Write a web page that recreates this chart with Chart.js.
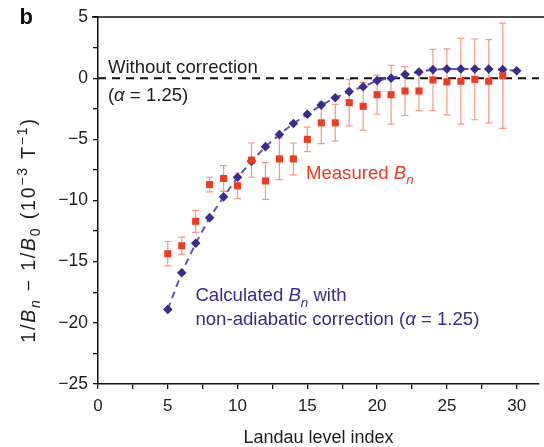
<!DOCTYPE html>
<html><head><meta charset="utf-8">
<script src="https://cdn.jsdelivr.net/npm/chart.js@4.4.0/dist/chart.umd.min.js"></script>
<style>html,body{margin:0;padding:0;background:#fff;overflow:hidden}canvas{display:block}</style>
</head><body>
<canvas id="c" width="544" height="447"></canvas>
<script>
// ---- data ----
const levelIndex = [5,6,7,8,9,10,11,12,13,14,15,16,17,18,19,20,21,22,23,24,25,26,27,28,29,30];
const calculatedB = [-18.9,-15.9,-13.5,-11.4,-9.7,-8.1,-6.8,-5.6,-4.6,-3.7,-2.95,-2.2,-1.6,-1.1,-0.7,-0.2,0.0,0.3,0.5,0.7,0.75,0.75,0.75,0.75,0.7,0.6];
const measuredIndex = [5,6,7,8,9,10,11,12,13,14,15,16,17,18,19,20,21,22,23,24,25,26,27,28,29];
const measuredB = [-14.35,-13.7,-11.7,-8.7,-8.2,-8.8,-6.7,-8.4,-6.6,-6.6,-5.0,-3.65,-3.65,-2.0,-2.3,-1.35,-1.35,-1.05,-1.05,-0.15,-0.3,-0.25,-0.1,-0.25,0.2];
const measuredErr = [1.0,0.7,0.9,0.6,1.05,1.05,1.4,1.5,1.7,1.3,1.0,1.7,1.5,1.9,1.95,1.6,2.4,2.0,1.6,2.5,2.7,3.5,3.3,3.4,4.3];
const referenceX = [0, 31.6];
const referenceY = [0, 0];
const xTicks = [0,2.5,5,7.5,10,12.5,15,17.5,20,22.5,25,27.5,30];
const xTickLabels = ['0','','5','','10','','15','','20','','25','','30'];
const yTicks = [-25,-22.5,-20,-17.5,-15,-12.5,-10,-7.5,-5,-2.5,0,2.5,5];
const yTickLabels = ['\u221225','','\u221220','','\u221215','','\u221210','','\u22125','','0','','5'];

const FONT = '"Liberation Sans", Arial, Helvetica, sans-serif';
const RED = '#ee3b22', ERR = '#f39a86', NAVY = '#3a2c8e', LINE = '#5a5ab0', TXT = '#1e1e1e';

function richWidth(ctx, parts, size) {
  let w = 0;
  for (const p of parts) {
    const s = (p.sub || p.sup) ? size * 0.72 : size;
    ctx.font = (p.italic ? 'italic ' : '') + (p.bold ? 'bold ' : '') + s + 'px ' + FONT;
    w += ctx.measureText(p.t).width;
  }
  return w;
}
function drawRich(ctx, x, y, parts, size, color) {
  let cx = x;
  ctx.fillStyle = color;
  ctx.textBaseline = 'alphabetic';
  ctx.textAlign = 'left';
  for (const p of parts) {
    const s = (p.sub || p.sup) ? size * 0.72 : size;
    ctx.font = (p.italic ? 'italic ' : '') + (p.bold ? 'bold ' : '') + s + 'px ' + FONT;
    const dy = p.sub ? size * 0.28 : (p.sup ? -size * 0.4 : 0);
    ctx.fillText(p.t, cx, y + dy);
    cx += ctx.measureText(p.t).width;
  }
}

const yTitleParts = [{t:'1/'},{t:'B',italic:true},{t:'n',italic:true,sub:true},{t:' \u2212 1/'},{t:'B',italic:true},{t:'0',sub:true},{t:' (10'},{t:'\u22123',sup:true},{t:' T'},{t:'\u22121',sup:true},{t:')'}];

const decorPlugin = {
  id: 'decor',
  beforeDatasetsDraw(chart) {
    const {ctx, scales: {x, y}} = chart;
    ctx.save();
    ctx.strokeStyle = ERR;
    ctx.lineWidth = 1.2;
    measuredIndex.forEach((n, i) => {
      const px = x.getPixelForValue(n);
      const top = y.getPixelForValue(measuredB[i] + measuredErr[i]);
      const bot = y.getPixelForValue(measuredB[i] - measuredErr[i]);
      ctx.beginPath();
      ctx.moveTo(px, top); ctx.lineTo(px, bot);
      ctx.moveTo(px - 3.5, top); ctx.lineTo(px + 3.5, top);
      ctx.moveTo(px - 3.5, bot); ctx.lineTo(px + 3.5, bot);
      ctx.stroke();
    });
    ctx.restore();
  },
  afterDraw(chart) {
    const {ctx, chartArea, scales: {x, y}} = chart;
    ctx.save();
    // top frame line
    ctx.strokeStyle = '#111';
    ctx.lineWidth = 1.5;
    ctx.beginPath();
    ctx.moveTo(chartArea.left - 6, chartArea.top);
    ctx.lineTo(chart.width, chartArea.top);
    ctx.stroke();
    // y axis title (rotated rich text)
    const ts = 19.5;
    ctx.save();
    ctx.letterSpacing = '1.8px';
    const tw = richWidth(ctx, yTitleParts, ts);
    ctx.translate(35, 230);
    ctx.rotate(-Math.PI / 2);
    drawRich(ctx, -tw / 2, 0, yTitleParts, ts, TXT);
    ctx.restore();
    // annotations
    const S = 18.6;
    drawRich(ctx, x.getPixelForValue(0.71), y.getPixelForValue(0.45), [{t:'Without correction'}], S, TXT);
    drawRich(ctx, x.getPixelForValue(0.71), y.getPixelForValue(-1.9), [{t:'('},{t:'\u03b1',italic:true},{t:' = 1.25)'}], S, TXT);
    drawRich(ctx, x.getPixelForValue(14.9), y.getPixelForValue(-8.25), [{t:'Measured '},{t:'B',italic:true},{t:'n',italic:true,sub:true}], S, RED);
    drawRich(ctx, x.getPixelForValue(6.98), y.getPixelForValue(-18.25), [{t:'Calculated '},{t:'B',italic:true},{t:'n',italic:true,sub:true},{t:' with'}], S, NAVY);
    drawRich(ctx, x.getPixelForValue(6.98), y.getPixelForValue(-20.2), [{t:'non-adiabatic correction ('},{t:'\u03b1',italic:true},{t:' = 1.25)'}], S, NAVY);
    drawRich(ctx, 19.5, 24, [{t:'b', bold:true}], 22, '#111');
    ctx.restore();
  }
};

new Chart(document.getElementById('c'), {
  type: 'scatter',
  data: {
    datasets: [
      {
        label: 'Measured',
        data: measuredIndex.map((n, i) => ({x: n, y: measuredB[i]})),
        pointStyle: 'rect', pointRadius: 5, pointBackgroundColor: RED, pointBorderWidth: 0,
        showLine: false, order: 0
      },
      {
        label: 'Calculated',
        data: levelIndex.map((n, i) => ({x: n, y: calculatedB[i]})),
        showLine: true, borderColor: LINE, borderWidth: 2, borderDash: [7, 5],
        pointStyle: 'rectRot', pointRadius: 4.8, pointBackgroundColor: NAVY, pointBorderWidth: 0,
        order: 1
      },
      {
        label: 'Without correction',
        data: referenceX.map((v, i) => ({x: v, y: referenceY[i]})),
        showLine: true, borderColor: '#111', borderWidth: 2, borderDash: [8, 6],
        pointRadius: 0, order: 2
      }
    ]
  },
  options: {
    responsive: false, animation: false, devicePixelRatio: 1,
    layout: {padding: {top: 17, right: 2.6, left: 0, bottom: 0}},
    plugins: {legend: {display: false}, tooltip: {enabled: false}},
    scales: {
      x: {
        type: 'linear', min: 0, max: 31.6,
        afterBuildTicks: s => { s.ticks = xTicks.map(v => ({value: v})); },
        afterFit: s => { s.height = 63; },
        ticks: {
          callback: (v) => xTickLabels[xTicks.indexOf(v)] ?? '',
          autoSkip: false, maxRotation: 0, padding: 7,
          font: {family: FONT, size: 17}, color: TXT
        },
        grid: {drawOnChartArea: false, drawTicks: true, tickLength: 5, color: '#111', lineWidth: 1.3},
        border: {display: true, color: '#111', width: 1.5},
        title: {display: true, text: 'Landau level index', font: {family: FONT, size: 18, lineHeight: 1}, color: TXT, padding: {top: 0, bottom: 0}}
      },
      y: {
        type: 'linear', min: -25, max: 5,
        afterBuildTicks: s => { s.ticks = yTicks.map(v => ({value: v})); },
        afterFit: s => { s.width = 98; },
        ticks: {
          callback: (v) => yTickLabels[yTicks.indexOf(v)] ?? '',
          autoSkip: false, padding: 5,
          font: {family: FONT, size: 17.5}, color: TXT
        },
        grid: {drawOnChartArea: false, drawTicks: true, tickLength: 5, color: '#111', lineWidth: 1.3},
        border: {display: true, color: '#111', width: 1.5},
        title: {display: false}
      }
    }
  },
  plugins: [decorPlugin]
});
</script>
</body></html>
